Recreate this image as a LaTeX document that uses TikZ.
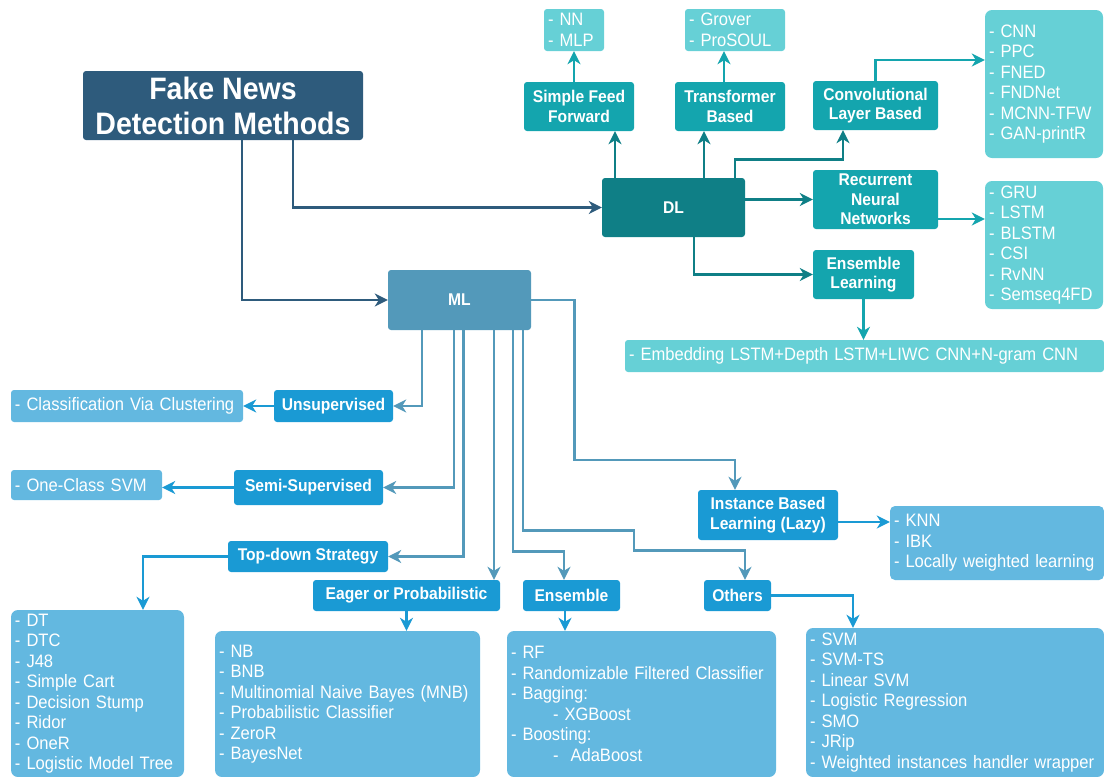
\documentclass[tikz,border=0pt]{standalone}
\usepackage{fontspec}
\setmainfont{Liberation Sans}[FakeStretch=0.92]
\usetikzlibrary{arrows.meta}
\definecolor{rootblue}{HTML}{2E5B7C}
\definecolor{dlteal}{HTML}{0F7F86}
\definecolor{dlsub}{HTML}{14A5AE}
\definecolor{dllist}{HTML}{66D0D6}
\definecolor{mlblue}{HTML}{5399BA}
\definecolor{mlsub}{HTML}{1A9AD4}
\definecolor{mllist}{HTML}{63B8E0}
\hyphenpenalty=10000
\exhyphenpenalty=10000
\begin{document}
\begin{tikzpicture}[x=1pt,y=-1pt,
  lbl/.style={fill=#1,text=white,rounded corners=3pt,inner sep=0pt,align=center,
    font=\bfseries\fontsize{17}{19.5}\selectfont},
  lst/.style={fill=#1,text=white,rounded corners=3pt,inner xsep=4pt,inner ysep=0pt,align=left,
    font=\fontsize{18}{20.5}\selectfont},
  con/.style={draw=#1,line width=2.8pt,-{Stealth[length=13pt,width=13pt,inset=4pt]}}]
  \useasboundingbox (0,0) rectangle (1104,777);

  \node[fill=rootblue,text=white,rounded corners=3pt,inner sep=0pt,align=center,
    minimum width=280pt,minimum height=69pt,
    font=\bfseries\fontsize{31}{35}\selectfont] (root) at (223,105.5) {Fake News\\Detection Methods};

  \node[lbl=dlteal,minimum width=143pt,minimum height=59pt] (dl) at (673.5,207.5) {DL};
  \node[lbl=mlblue,minimum width=143pt,minimum height=60pt] (ml) at (459.5,300) {ML};

  % deep learning side
  \node[lbl=dlsub,minimum width=110pt,minimum height=49pt] (sff) at (579,106.5) {Simple Feed\\Forward};
  \node[lst=dllist,text width=52pt,minimum height=42pt] (nnlist) at (574,30) {- NN\\- MLP};
  \node[lbl=dlsub,minimum width=110pt,minimum height=49pt] (trans) at (730,106.5) {Transformer\\Based};
  \node[lst=dllist,text width=92pt,minimum height=42pt] (grover) at (735,30) {- Grover\\- ProSOUL};
  \node[lbl=dlsub,minimum width=125pt,minimum height=49pt] (conv) at (875.5,105.5) {Convolutional\\Layer Based};
  \node[lst=dllist,rounded corners=7pt,text width=110pt,minimum height=148pt] (cnnlist) at (1044,84)
    {- CNN\\- PPC\\- FNED\\- FNDNet\\- MCNN-TFW\\- GAN-printR};
  \node[lbl=dlsub,minimum width=125pt,minimum height=59pt] (rnn) at (875.5,199.5) {Recurrent\\Neural\\Networks};
  \node[lst=dllist,rounded corners=7pt,text width=110pt,minimum height=128pt] (grulist) at (1044,245)
    {- GRU\\- LSTM\\- BLSTM\\- CSI\\- RvNN\\- Semseq4FD};
  \node[lbl=dlsub,minimum width=101pt,minimum height=49pt] (ensdl) at (863.5,274.5) {Ensemble\\Learning};
  \node[lst=dllist,text width=471pt,minimum height=32pt] (emblist) at (864.5,356)
    {- Embedding LSTM+Depth LSTM+LIWC CNN+N-gram CNN};

  % machine learning side
  \node[lbl=mlsub,minimum width=119pt,minimum height=32pt] (unsup) at (333.5,406) {Unsupervised};
  \node[lst=mllist,text width=224pt,minimum height=32pt] (clust) at (127,406) {- Classification Via Clustering};
  \node[lbl=mlsub,minimum width=149pt,minimum height=35pt] (semi) at (308.5,487.5) {Semi-Supervised};
  \node[lst=mllist,text width=143pt,minimum height=30pt] (ocsvm) at (86.5,485) {- One-Class SVM};
  \node[lbl=mlsub,minimum width=160pt,minimum height=31pt] (topdown) at (308,556.5) {Top-down Strategy};
  \node[lst=mllist,rounded corners=7pt,text width=165pt,minimum height=167pt] (dtlist) at (97.5,693.5)
    {- DT\\- DTC\\- J48\\- Simple Cart\\- Decision Stump\\- Ridor\\- OneR\\- Logistic Model Tree};
  \node[lbl=mlsub,minimum width=187pt,minimum height=31pt] (eager) at (406.5,595.5) {Eager or Probabilistic};
  \node[lst=mllist,rounded corners=7pt,text width=257pt,minimum height=146pt] (nblist) at (347.5,704)
    {- NB\\- BNB\\- Multinomial Naive Bayes (MNB)\\- Probabilistic Classifier\\- ZeroR\\- BayesNet};
  \node[lbl=mlsub,minimum width=97pt,minimum height=31pt] (ensml) at (571.5,595.5) {Ensemble};
  \node[lst=mllist,rounded corners=7pt,text width=261pt,minimum height=146pt] (rflist) at (641.5,704)
    {- RF\\- Randomizable Filtered Classifier\\- Bagging:\\\hspace*{42pt}- XGBoost\\- Boosting:\\\hspace*{42pt}-\ \ AdaBoost};
  \node[lbl=mlsub,minimum width=67pt,minimum height=31pt] (others) at (737.5,595.5) {Others};
  \node[lst=mllist,rounded corners=7pt,text width=290pt,minimum height=149pt] (svmlist) at (955,702.5)
    {- SVM\\- SVM-TS\\- Linear SVM\\- Logistic Regression\\- SMO\\- JRip\\- Weighted instances handler wrapper};
  \node[lbl=mlsub,minimum width=140pt,minimum height=50pt] (inst) at (768,515) {Instance Based\\Learning (Lazy)};
  \node[lst=mllist,rounded corners=5pt,text width=206pt,minimum height=74pt] (knnlist) at (997,543)
    {- KNN\\- IBK\\- Locally weighted learning};

  \draw[con=rootblue] ([xshift=70pt]root.south) |- (dl.west);
  \draw[con=rootblue] ([xshift=19pt]root.south) |- (ml.west);

  \draw[con=dlteal] ([xshift=-58.5pt]dl.north) -- ([xshift=-58.5pt]dl.north |- sff.south);
  \draw[con=dlsub] (sff.north -| nnlist.south) -- (nnlist.south);
  \draw[con=dlteal] ([xshift=30.5pt]dl.north) -- ([xshift=30.5pt]dl.north |- trans.south);
  \draw[con=dlsub] ([xshift=-6pt]trans.north) -- ([xshift=-6pt]trans.north |- grover.south);
  \draw[con=dlteal] ([xshift=61.5pt]dl.north) -- ++(0,-18) -| ([xshift=-32.5pt]conv.south);
  \draw[con=dlsub] (conv.north) |- ([yshift=24pt]cnnlist.west);
  \draw[con=dlteal] (dl.east |- rnn.west) -- (rnn.west);
  \draw[con=dlsub] ([yshift=-19.5pt]rnn.east) -- ([yshift=-19.5pt]rnn.east -| grulist.west);
  \draw[con=dlteal] ([xshift=20.5pt]dl.south) |- (ensdl.west);
  \draw[con=dlsub] (ensdl.south) -- (ensdl.south |- emblist.north);

  \draw[con=mlblue] ([xshift=-37.5pt]ml.south) |- (unsup.east);
  \draw[con=mlsub] (unsup.west) -- (clust.east);
  \draw[con=mlblue] ([xshift=-5.5pt]ml.south) |- (semi.east);
  \draw[con=mlsub] (semi.west) -- (semi.west -| ocsvm.east);
  \draw[con=mlblue] ([xshift=4pt]ml.south) |- (topdown.east);
  \draw[con=mlsub] (topdown.west) -| ([xshift=45.5pt]dtlist.north);
  \draw[con=mlblue] ([xshift=34.5pt]ml.south) -- ([xshift=34.5pt]ml.south |- eager.north);
  \draw[con=mlsub] (eager.south) -- (eager.south |- nblist.north);
  \draw[con=mlblue] ([xshift=53.5pt]ml.south) -- ++(0,221) -| ([xshift=-7.5pt]ensml.north);
  \draw[con=mlsub] ([xshift=-6.5pt]ensml.south) -- ([xshift=-6.5pt]ensml.south |- rflist.north);
  \draw[con=mlblue] ([xshift=63.5pt]ml.south) -- ++(0,200) -- ++(111,0) -- ++(0,20) -| ([xshift=7.5pt]others.north);
  \draw[con=mlsub] (others.east) -| ([xshift=-102pt]svmlist.north);
  \draw[con=mlblue] (ml.east) -- ++(43,0) -- ++(0,160) -| ([xshift=-33pt]inst.north);
  \draw[con=mlsub] ([yshift=-7pt]inst.east) -- ([yshift=-7pt]inst.east -| knnlist.west);
\end{tikzpicture}
\end{document}
